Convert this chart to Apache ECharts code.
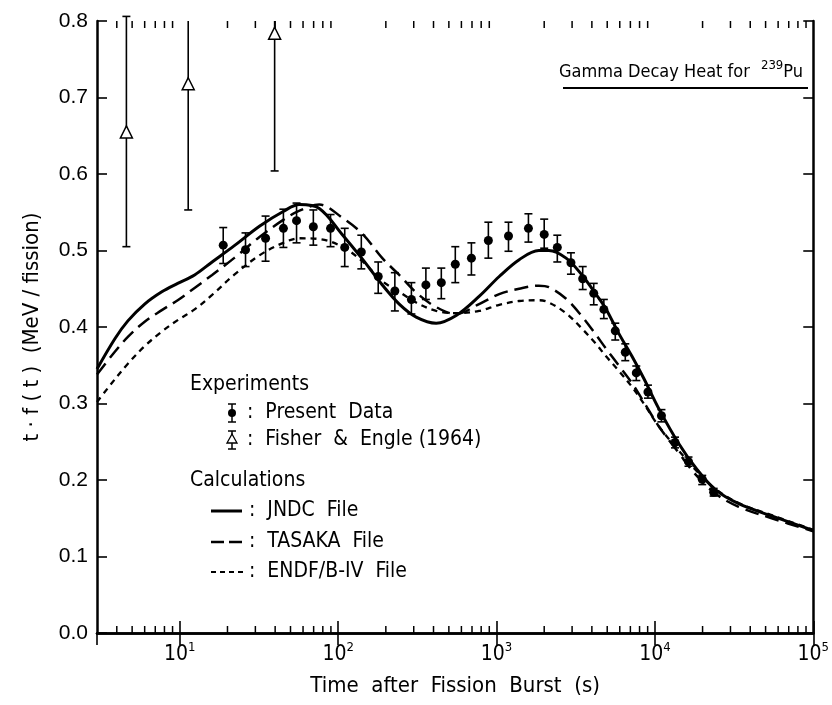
<!DOCTYPE html>
<html lang="en">
<head>
<meta charset="UTF-8">
<title>Gamma Decay Heat for 239Pu</title>
<script src="https://cdn.jsdelivr.net/npm/echarts@6.0.0/dist/echarts.min.js"></script>
<style>
  html, body { margin: 0; padding: 0; background: #fff; }
  #main { width: 832px; height: 705px; }
</style>
</head>
<body>
<div id="main"></div>
<script>
// ---- data ----
// present data: time (s), value, lower and upper end of error bar
var presT  = [18.8, 26.0, 34.8, 45.1, 54.6, 69.7, 89.5, 110, 140, 179, 228, 290, 358, 448, 549, 694, 888,
              1190, 1590, 2000, 2420, 2950, 3500, 4110, 4760, 5620, 6500, 7630, 9040, 11000, 13400, 16300, 19900, 23500];
var presV  = [0.507, 0.501, 0.516, 0.529, 0.539, 0.531, 0.529, 0.504, 0.498, 0.466, 0.447, 0.436, 0.455, 0.458, 0.482, 0.490, 0.513,
              0.519, 0.529, 0.521, 0.504, 0.484, 0.463, 0.444, 0.423, 0.395, 0.367, 0.340, 0.315, 0.284, 0.249, 0.224, 0.201, 0.184];
var presLo = [0.483, 0.479, 0.486, 0.504, 0.510, 0.507, 0.505, 0.479, 0.476, 0.444, 0.421, 0.417, 0.436, 0.437, 0.458, 0.468, 0.490,
              0.499, 0.511, 0.503, 0.485, 0.469, 0.449, 0.429, 0.411, 0.383, 0.356, 0.330, 0.307, 0.276, 0.242, 0.218, 0.194, 0.179];
var presHi = [0.530, 0.523, 0.545, 0.554, 0.562, 0.553, 0.547, 0.529, 0.520, 0.485, 0.471, 0.458, 0.477, 0.477, 0.505, 0.510, 0.537,
              0.537, 0.548, 0.541, 0.520, 0.497, 0.479, 0.457, 0.436, 0.405, 0.378, 0.349, 0.324, 0.292, 0.256, 0.230, 0.206, 0.189];

// Fisher & Engle (1964)
var fishT  = [4.6, 11.3, 39.7];
var fishV  = [0.655, 0.718, 0.784];
var fishLo = [0.505, 0.553, 0.604];
var fishHi = [0.806, 0.883, 0.964];

// calculations
var calcT  = [3, 3.9, 4.7, 6, 7.7, 9.7, 12.4, 16, 22, 32, 45, 57, 76, 106, 142, 190, 243, 311, 416, 556,
              776, 1040, 1390, 1850, 2140, 2750, 3460, 4240, 4900, 5900, 7150, 8500, 10600, 14200, 18100, 24200, 33800, 54600, 100000];
var jndc   = [0.345, 0.385, 0.408, 0.430, 0.446, 0.457, 0.468, 0.485, 0.506, 0.532, 0.551, 0.560, 0.555, 0.521, 0.489, 0.455, 0.430, 0.413, 0.405, 0.415,
              0.440, 0.466, 0.488, 0.500, 0.500, 0.490, 0.468, 0.443, 0.424, 0.392, 0.362, 0.333, 0.293, 0.247, 0.216, 0.187, 0.169, 0.153, 0.134];
var tasaka = [0.338, 0.368, 0.387, 0.407, 0.422, 0.435, 0.451, 0.468, 0.490, 0.518, 0.540, 0.552, 0.560, 0.543, 0.522, 0.490, 0.468, 0.445, 0.426, 0.417,
              0.430, 0.443, 0.450, 0.454, 0.452, 0.437, 0.414, 0.390, 0.372, 0.350, 0.327, 0.302, 0.270, 0.235, 0.207, 0.182, 0.165, 0.150, 0.133];
var endf   = [0.302, 0.332, 0.352, 0.375, 0.394, 0.409, 0.423, 0.442, 0.468, 0.494, 0.510, 0.516, 0.515, 0.505, 0.486, 0.460, 0.446, 0.432, 0.421, 0.418,
              0.421, 0.429, 0.434, 0.435, 0.432, 0.418, 0.398, 0.378, 0.362, 0.343, 0.322, 0.300, 0.270, 0.238, 0.213, 0.188, 0.170, 0.154, 0.135];

// axis ticks
var decades = [1, 10, 100, 1000, 10000];
var minorMults = [2, 3, 4, 5, 6, 7, 8, 9];

var FONT = "'Liberation Sans', Arial, sans-serif";
var NARROW = "'Liberation Sans Narrow', 'DejaVu Sans Condensed', 'Liberation Sans', sans-serif";

function pairs(xs, ys) {
    return xs.map(function (x, i) { return [x, ys[i]]; });
}
function bars(xs, lo, hi) {
    return xs.map(function (x, i) { return [x, lo[i], hi[i]]; });
}

var minorTicks = [];
decades.forEach(function (d) {
    minorMults.forEach(function (m) {
        var v = d * m;
        if (v > 3 && v < 100000) minorTicks.push([v, 0]);
    });
});

function errRender(params, api) {
    var x = api.value(0), lo = api.value(1), hi = api.value(2);
    var capTop = hi <= 0.81;
    var top = api.coord([x, capTop ? hi : 0.8]);
    var bot = api.coord([x, lo]);
    var c = 4;
    var st = { stroke: '#000', lineWidth: 1.6 };
    var kids = [
        { type: 'line', shape: { x1: bot[0], y1: bot[1], x2: top[0], y2: top[1] }, style: st },
        { type: 'line', shape: { x1: bot[0] - c, y1: bot[1], x2: bot[0] + c, y2: bot[1] }, style: st }
    ];
    if (capTop) {
        kids.push({ type: 'line', shape: { x1: top[0] - c, y1: top[1], x2: top[0] + c, y2: top[1] }, style: st });
    }
    return { type: 'group', children: kids };
}

function minorRender(params, api) {
    var x = api.value(0);
    var b = api.coord([x, 0]);
    var t = api.coord([x, 0.8]);
    var st = { stroke: '#000', lineWidth: 1.5 };
    return {
        type: 'group',
        children: [
            { type: 'line', shape: { x1: b[0], y1: b[1], x2: b[0], y2: b[1] - 7 }, style: st },
            { type: 'line', shape: { x1: t[0], y1: t[1], x2: t[0], y2: t[1] + 7 }, style: st }
        ]
    };
}

var chart = echarts.init(document.getElementById('main'), null, { renderer: 'canvas' });

var axisLine = { lineStyle: { color: '#000', width: 2.5 } };
var tickStyle = { show: true, inside: true, length: 12, lineStyle: { color: '#000', width: 1.6 } };

// legend block drawn as graphic
var legX = 190, symX = 232, lineX0 = 211, lineX1 = 242, txtX = 247;
var rows = { exp: 385, pres: 413, fish: 440, calc: 481, jndc: 511, tas: 542, endf: 572 };
var lt = { fill: '#000', font: '21px ' + NARROW, textVerticalAlign: 'middle' };
function txt(x, y, s) {
    return { type: 'text', x: x, y: y, style: Object.assign({ text: s }, lt) };
}
function seg(x0, x1, y, dash, w) {
    return { type: 'line', shape: { x1: x0, y1: y, x2: x1, y2: y },
             style: { stroke: '#000', lineWidth: w, lineDash: dash } };
}

var graphics = [
    txt(legX, rows.exp, 'Experiments'),
    { type: 'line', shape: { x1: symX, y1: rows.pres - 9, x2: symX, y2: rows.pres + 9 }, style: { stroke: '#000', lineWidth: 1.5 } },
    seg(symX - 4, symX + 4, rows.pres - 9, null, 1.5),
    seg(symX - 4, symX + 4, rows.pres + 9, null, 1.5),
    { type: 'circle', shape: { cx: symX, cy: rows.pres, r: 4 }, style: { fill: '#000' } },
    txt(txtX, rows.pres, ':  Present  Data'),
    { type: 'line', shape: { x1: symX, y1: rows.fish - 9, x2: symX, y2: rows.fish + 9 }, style: { stroke: '#000', lineWidth: 1.5 } },
    seg(symX - 4, symX + 4, rows.fish - 9, null, 1.5),
    seg(symX - 4, symX + 4, rows.fish + 9, null, 1.5),
    { type: 'polygon', shape: { points: [[symX, rows.fish - 6], [symX - 5, rows.fish + 3], [symX + 5, rows.fish + 3]] },
      style: { fill: '#fff', stroke: '#000', lineWidth: 1.3 } },
    txt(txtX, rows.fish, ':  Fisher  &  Engle (1964)'),
    txt(legX, rows.calc, 'Calculations'),
    seg(lineX0, lineX1, rows.jndc, null, 3),
    txt(txtX + 2, rows.jndc, ':  JNDC  File'),
    seg(lineX0, lineX1, rows.tas, [13, 5], 2.5),
    txt(txtX + 2, rows.tas, ':  TASAKA  File'),
    seg(lineX0, lineX1 + 2, rows.endf, [5, 4], 2.2),
    txt(txtX + 2, rows.endf, ':  ENDF/B-IV  File'),
    // title with underline
    { type: 'text', x: 803, y: 81,
      style: { text: '{a|Gamma Decay Heat for }{s|239}{a|Pu}', textAlign: 'right', textVerticalAlign: 'bottom',
               rich: { a: { fontSize: 18, fontFamily: NARROW, fill: '#000', verticalAlign: 'bottom' },
                       s: { fontSize: 13, fontFamily: NARROW, fill: '#000', verticalAlign: 'bottom', padding: [0, 0, 9, 6] } } } },
    seg(563, 808, 88, null, 2)
];

var option = {
    animation: false,
    backgroundColor: '#fff',
    grid: { left: 97, right: 17, top: 21, bottom: 72 },
    xAxis: [{
        type: 'log', logBase: 10, min: 3, max: 100000, position: 'bottom',
        name: 'Time  after  Fission  Burst  (s)', nameLocation: 'middle', nameGap: 42,
        nameTextStyle: { fontFamily: NARROW, fontSize: 22, color: '#000' },
        axisLine: axisLine, axisTick: tickStyle, splitLine: { show: false }, minorTick: { show: false },
        axisLabel: {
            showMinLabel: false, margin: 8, color: '#000',
            formatter: function (v) { return '{b|10}{s|' + Math.round(Math.log10(v)) + '}'; },
            rich: { b: { fontSize: 21, fontFamily: NARROW, color: '#000', verticalAlign: 'bottom' },
                    s: { fontSize: 13, fontFamily: NARROW, color: '#000', verticalAlign: 'bottom', padding: [0, 0, 11, 0] } }
        }
    }, {
        type: 'log', logBase: 10, min: 3, max: 100000, position: 'top',
        axisLine: axisLine, axisTick: tickStyle, axisLabel: { show: false }, splitLine: { show: false }
    }],
    yAxis: [{
        type: 'value', min: 0, max: 0.8, interval: 0.1, position: 'left',
        name: 't · f ( t )  (MeV / fission)', nameLocation: 'middle', nameGap: 54, nameRotate: 90,
        nameTextStyle: { fontFamily: NARROW, fontSize: 22, color: '#000' },
        axisLine: axisLine, axisTick: Object.assign({}, tickStyle, { length: 10 }), splitLine: { show: false },
        axisLabel: { margin: 9, color: '#000', fontFamily: FONT, fontSize: 21,
                     formatter: function (v) { return v.toFixed(1); } }
    }, {
        type: 'value', min: 0, max: 0.8, interval: 0.1, position: 'right',
        axisLine: axisLine, axisTick: Object.assign({}, tickStyle, { length: 10 }),
        axisLabel: { show: false }, splitLine: { show: false }
    }],
    graphic: graphics,
    series: [
        { type: 'custom', name: 'minor', renderItem: minorRender, data: minorTicks, silent: true, clip: false, z: 1 },
        { type: 'line', name: 'JNDC File', data: pairs(calcT, jndc), smooth: 0.35, showSymbol: false,
          lineStyle: { color: '#000', width: 3 }, z: 3 },
        { type: 'line', name: 'TASAKA File', data: pairs(calcT, tasaka), smooth: 0.35, showSymbol: false,
          lineStyle: { color: '#000', width: 2.5, type: [14, 7] }, z: 3 },
        { type: 'line', name: 'ENDF/B-IV File', data: pairs(calcT, endf), smooth: 0.35, showSymbol: false,
          lineStyle: { color: '#000', width: 2.3, type: [6, 5] }, z: 3 },
        { type: 'custom', name: 'Present Data err', renderItem: errRender, data: bars(presT, presLo, presHi), clip: false, z: 4 },
        { type: 'scatter', name: 'Present Data', data: pairs(presT, presV), symbol: 'circle', symbolSize: 9,
          itemStyle: { color: '#000', opacity: 1 }, z: 5 },
        { type: 'custom', name: 'Fisher err', renderItem: errRender, data: bars(fishT, fishLo, fishHi), clip: false, z: 4 },
        { type: 'scatter', name: 'Fisher & Engle (1964)', data: pairs(fishT, fishV), symbol: 'triangle', symbolSize: 12,
          itemStyle: { color: '#fff', borderColor: '#000', borderWidth: 1.5, opacity: 1 }, z: 5 }
    ]
};

chart.setOption(option);
</script>
</body>
</html>
